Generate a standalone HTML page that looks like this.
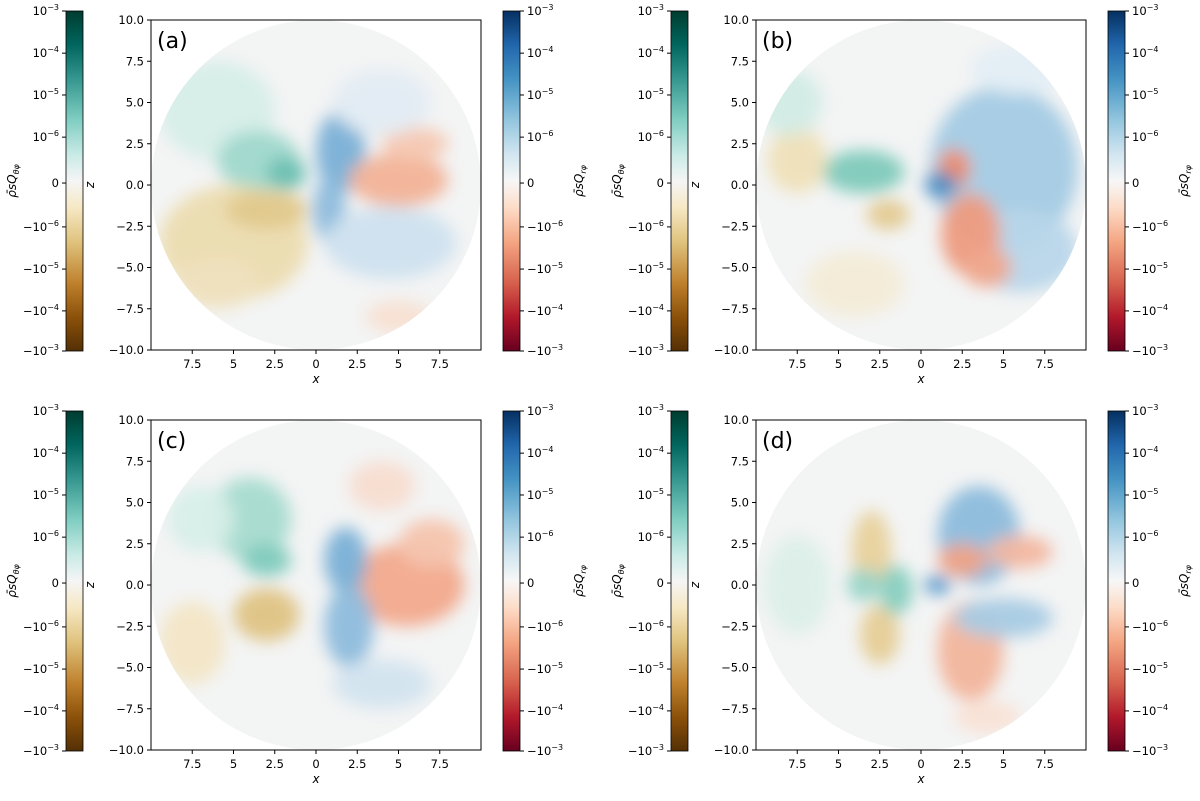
<!DOCTYPE html>
<html><head><meta charset="utf-8">
<style>
body{margin:0;background:#fff;}
svg{display:block;font-family:"DejaVu Sans","Liberation Sans",sans-serif;}
</style></head>
<body>
<svg id="fig" width="1200" height="801" viewBox="0 0 1200 801">
<defs>
<linearGradient id="gBrBG" x1="0" y1="0" x2="0" y2="1">
<stop offset="0" stop-color="#003c30"/><stop offset="0.1" stop-color="#01665e"/><stop offset="0.2" stop-color="#35978f"/><stop offset="0.32" stop-color="#80cdc1"/><stop offset="0.42" stop-color="#c7eae5"/><stop offset="0.5" stop-color="#f5f5f5"/><stop offset="0.58" stop-color="#f6e8c3"/><stop offset="0.68" stop-color="#dfc27d"/><stop offset="0.8" stop-color="#bf812d"/><stop offset="0.9" stop-color="#8c510a"/><stop offset="1" stop-color="#543005"/>
</linearGradient>
<linearGradient id="gRdBu" x1="0" y1="0" x2="0" y2="1">
<stop offset="0" stop-color="#053061"/><stop offset="0.1" stop-color="#2166ac"/><stop offset="0.2" stop-color="#4393c3"/><stop offset="0.32" stop-color="#92c5de"/><stop offset="0.42" stop-color="#d1e5f0"/><stop offset="0.5" stop-color="#f7f7f7"/><stop offset="0.58" stop-color="#fddbc7"/><stop offset="0.68" stop-color="#f4a582"/><stop offset="0.8" stop-color="#d6604d"/><stop offset="0.9" stop-color="#b2182b"/><stop offset="1" stop-color="#67001f"/>
</linearGradient>
<filter id="blur" x="-50%" y="-50%" width="200%" height="200%"><feGaussianBlur stdDeviation="8"/></filter>
</defs>
</svg>
<script>
const panelLabels = ["(a)","(b)","(c)","(d)"];
const xTicks = [-7.5,-5,-2.5,0,2.5,5,7.5];
const xTickLabels = ["7.5","5","2.5","0","2.5","5","7.5"];
const yTicks = [10,7.5,5,2.5,0,-2.5,-5,-7.5,-10];
const yTickLabels = ["10.0","7.5","5.0","2.5","0.0","\u22122.5","\u22125.0","\u22127.5","\u221210.0"];
const cbTickFrac = [0,0.124,0.247,0.371,0.506,0.635,0.759,0.882,1];
const cbPos = ["10","10","10","10","0","\u221210","\u221210","\u221210","\u221210"];
const cbExp = ["\u22123","\u22124","\u22125","\u22126","","\u22126","\u22125","\u22124","\u22123"];
// blobs: [x, z, rx, rz, color]
const blobsA = [
 [-6,4.5,3.5,3,"#d6eee8"],[-3.5,1.5,2.5,1.8,"#9fd8cc"],[-1.8,0.7,1.2,1,"#6cc0b2"],
 [-5,-3.5,4.5,3.5,"#ecdcb0"],[-3,-1.5,2.5,1.2,"#e2c98c"],[-6,-6,2.5,1.5,"#efe2bf"],
 [1.5,2,1.5,2.5,"#7ab0d6"],[0.8,-1.5,1,2,"#8dbcdc"],[5,0.3,3,1.6,"#f2b397"],[6,2.5,2,1,"#f5c8b2"],
 [4.5,-3.5,4,2.2,"#cfe2ef"],[5,-8,2,1,"#f8e0d2"],[4,5,3,2,"#e3ecf3"]
];
const blobsB = [
 [5,1,4.5,5,"#a4cbe4"],[6,-4,3.5,2.5,"#b8d6ea"],[2,1,1,1.2,"#ee8c6c"],[3,-3,1.8,2.5,"#ee9c7f"],
 [4,-5,1.5,1.2,"#f0a88e"],[1.2,0,1,0.8,"#4d8fc4"],[-3.5,0.8,2.5,1.3,"#7ecabb"],[-7.5,1.5,1.8,2,"#efe0b8"],
 [-2,-1.8,1.3,0.9,"#e3c98f"],[-8,5,2,2,"#d2ece5"],[-4,-6,3,2,"#f3ecd8"],[6,7,3,1.5,"#e3eef5"]
];
const blobsC = [
 [5.5,0,3.5,2.5,"#f2a98c"],[7,2.5,2,1.5,"#f5c4ae"],[1.8,1.5,1.3,2,"#7ab0d6"],[2,-2.5,1.5,2.5,"#8dbcdc"],
 [4,-6,3,1.5,"#d3e4ef"],[-4,4,2.5,2.5,"#a6dbcf"],[-3,1.5,1.5,1,"#7fcbbd"],[-3,-1.8,2,1.6,"#dfc383"],
 [-7.5,-3.5,2,2.5,"#f3e6c6"],[-7,4,2,2,"#d8efe9"],[4,6,2,1.5,"#f8ddd0"]
];
const blobsD = [
 [3.5,3,2.5,3,"#8cbcdc"],[2.5,1.5,1.5,1,"#f0a386"],[6,2,2,1,"#f3b7a0"],[3,-4,2,3,"#f2b59c"],
 [5,-2,3,1.2,"#a8cbe4"],[-3,2,1.2,2.5,"#e8d19c"],[-2.5,-3,1.2,1.8,"#e6cd96"],[-1.5,-0.3,1,1.5,"#86cfc0"],
 [-3.5,0,1,1,"#98d5c8"],[-7.5,0,2,3,"#dcefe9"],[1,0,0.8,0.6,"#5c9bcb"],[4,-8,2,1,"#f9e1d5"]
];
const panelBlobs = [blobsA, blobsB, blobsC, blobsD];

const NS = "http://www.w3.org/2000/svg";
const svg = document.getElementById("fig");
function mk(tag, attrs, parent){
  const e = document.createElementNS(NS, tag);
  for (const k in attrs) e.setAttribute(k, attrs[k]);
  (parent||svg).appendChild(e); return e;
}
function txt(s, attrs, parent){ const t = mk("text", attrs, parent); t.textContent = s; return t; }

const ox = [0,605,0,605], oy = [0,0,400,400];
for (let p=0;p<4;p++){
  const dx=ox[p], dy=oy[p];
  const L=151+dx, T=20+dy, W=330, H=330;
  const sx = v => L + (v+10)/20*W;
  const sy = v => T + (10-v)/20*H;
  const g = mk("g",{});
  
  
  const cp = mk("clipPath",{id:"clip"+p}, g);
  mk("circle",{cx:sx(0),cy:sy(0),r:W/2}, cp);
  const field = mk("g",{"clip-path":"url(#clip"+p+")"}, g);
  
  
  mk("circle",{cx:sx(0),cy:sy(0),r:W/2,fill:"#f3f4f4"}, field);
  const bg = mk("g",{filter:"url(#blur)"}, field);
  for (const b of panelBlobs[p]){
    const el = mk("ellipse",{cx:sx(b[0]),cy:sy(b[1]),rx:b[2]/20*W,ry:b[3]/20*H,fill:b[4],opacity:0.95}, bg);
    
    
  }
  const fr = mk("rect",{x:L,y:T,width:W,height:H,fill:"none",stroke:"#000","stroke-width":1}, g);
  
  
  xTicks.forEach((v,i)=>{
    mk("line",{x1:sx(v),x2:sx(v),y1:T+H,y2:T+H+4,stroke:"#000"}, g);
    const t=txt(xTickLabels[i],{x:sx(v),y:T+H+18,"font-size":11.5,"text-anchor":"middle"}, g);
    
    
  });
  yTicks.forEach((v,i)=>{
    mk("line",{x1:L-4,x2:L,y1:sy(v),y2:sy(v),stroke:"#000"}, g);
    const t=txt(yTickLabels[i],{x:L-7,y:sy(v)+4,"font-size":11.5,"text-anchor":"end"}, g);
    
    
  });
  const xl=txt("x",{x:sx(0),y:T+H+33,"font-size":12,"font-style":"italic","text-anchor":"middle"}, g);
  
  
  const zl=txt("z",{x:0,y:0,"font-size":12,"font-style":"italic","text-anchor":"middle",transform:`translate(${L-57},${sy(0)}) rotate(-90)`}, g);
  
  
  const pl=txt(panelLabels[p],{x:L+6,y:T+28,"font-size":22}, g);
  
  
  const cbT=11+dy, cbH=340;
  [[66+dx,"gBrBG","left","\u03B8\u03C6"],[503+dx,"gRdBu","right","r\u03C6"]].forEach(c=>{
    const cx=c[0];
    const r=mk("rect",{x:cx,y:cbT,width:17,height:cbH,fill:"url(#"+c[1]+")",stroke:"#000","stroke-width":0.8}, g);
    
    
    cbTickFrac.forEach((f,i)=>{
      const yy=cbT+f*cbH;
      if(c[2]=="left"){
        mk("line",{x1:cx-4,x2:cx,y1:yy,y2:yy,stroke:"#000"}, g);
      } else {
        mk("line",{x1:cx+17,x2:cx+21,y1:yy,y2:yy,stroke:"#000"}, g);
      }
      const t=txt("",{x:c[2]=="left"?cx-7:cx+24,y:yy+4,"font-size":11.5,"text-anchor":c[2]=="left"?"end":"start"}, g);
      
      
      t.textContent = cbPos[i];
      if(cbExp[i]){
        const s=mk("tspan",{"font-size":8,dy:-5}, t); s.textContent=cbExp[i];
      }
    });
    const lx = c[2]=="left"? cx-50 : cx+80;
    const lab=txt("\u03C1\u0304sQ",{x:0,y:0,"font-size":12,"font-style":"italic","text-anchor":"middle",transform:`translate(${lx},${cbT+cbH/2}) rotate(-90)`}, g);
    
    
    const sub=mk("tspan",{"font-size":8,dy:3}, lab); sub.textContent=c[3];
  });
}
</script>
</body></html>
